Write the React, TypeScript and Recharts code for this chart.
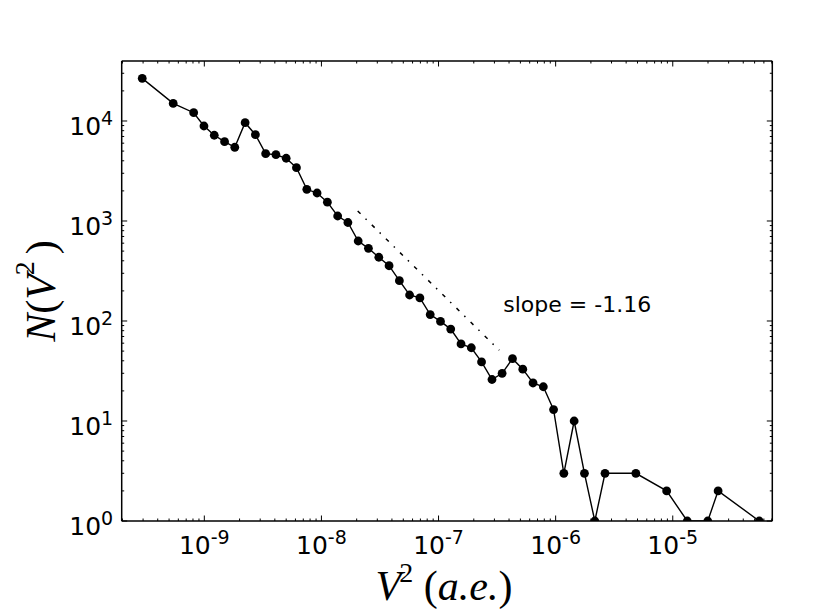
import { LineChart, Line, XAxis, YAxis, ReferenceDot } from 'recharts';

// V^2 bin centres (a.e.) and counts
const v2 = [
  2.95e-10, 5.42e-10, 8.11e-10, 9.93e-10, 1.216e-9, 1.489e-9, 1.82e-9, 2.23e-9,
  2.73e-9, 3.34e-9, 4.09e-9, 5.0e-9, 6.12e-9, 7.5e-9, 9.18e-9, 1.124e-8,
  1.376e-8, 1.683e-8, 2.06e-8, 2.52e-8, 3.09e-8, 3.78e-8, 4.63e-8, 5.66e-8,
  6.93e-8, 8.49e-8, 1.039e-7, 1.271e-7, 1.556e-7, 1.905e-7, 2.33e-7, 2.86e-7,
  3.49e-7, 4.28e-7, 5.24e-7, 6.41e-7, 7.85e-7, 9.6e-7, 1.175e-6, 1.439e-6,
  1.762e-6, 2.16e-6, 2.64e-6, 4.84e-6, 8.87e-6, 1.33e-5, 1.99e-5, 2.44e-5,
  5.48e-5,
];
const counts = [
  26700, 15000, 12100, 8910, 7200, 6210, 5460, 9620,
  7290, 4710, 4600, 4240, 3410, 2075, 1905, 1542,
  1122, 966, 631, 533, 434, 357, 253, 182,
  170, 116, 99, 83, 59, 54, 39, 26,
  30, 42, 33, 24, 22, 13, 3, 10,
  3, 1, 3, 3, 2, 1, 1, 2,
  1,
];

// power-law fit guide (endpoints)
const fitX = [2.04e-8, 3.3e-7];
const fitY = [1260, 51];

const xDecades = [1e-10, 1e-9, 1e-8, 1e-7, 1e-6, 1e-5];
const yDecades = [1, 10, 100, 1000, 10000];
const xDomain = [1.97e-10, 7.08e-5];
const yDomain = [1, 39800];

const data = v2.map((x, i) => ({ x, n: counts[i] }));
const fitData = fitX.map((x, i) => ({ x, n: fitY[i] }));

const withMinors = (decades: number[], lo: number, hi: number) => {
  const out: number[] = [];
  decades.forEach((d) => {
    for (let m = 1; m < 10; m++) {
      const v = m * d;
      if (v >= lo && v <= hi) out.push(v);
    }
  });
  return out;
};
const xTicks = withMinors(xDecades, xDomain[0], xDomain[1]);
const yTicks = withMinors(yDecades, yDomain[0], yDomain[1]);

const isMajor = (v: number) => {
  const l = Math.log10(v);
  return Math.abs(l - Math.round(l)) < 1e-6;
};

const tickFont = 'DejaVu Sans';

function Tick(props: any) {
  const { x, y, payload, side } = props;
  const v = payload.value;
  const major = isMajor(v);
  const len = major ? 5.5 : 2.5;
  const e = Math.round(Math.log10(v));
  let line;
  if (side === 'bottom') line = <line x1={x} y1={y} x2={x} y2={y - len} />;
  else if (side === 'top') line = <line x1={x} y1={y} x2={x} y2={y + len} />;
  else if (side === 'left') line = <line x1={x} y1={y} x2={x + len} y2={y} />;
  else line = <line x1={x} y1={y} x2={x - len} y2={y} />;
  return (
    <g>
      <g stroke="#000" strokeWidth={1}>{line}</g>
      {major && side === 'bottom' && (
        <text x={x} y={y + 33} textAnchor="middle" fontFamily={tickFont} fontSize={25} fill="#000">
          10<tspan fontSize={19} dy={-10}>{e}</tspan>
        </text>
      )}
      {major && side === 'left' && (
        <text x={x - 8.5} y={y + 14} textAnchor="end" fontFamily={tickFont} fontSize={25} fill="#000">
          10<tspan fontSize={19} dy={-10}>{e}</tspan>
        </text>
      )}
    </g>
  );
}

function XTitle(props: any) {
  const vb = props.viewBox;
  const cx = vb.x + vb.width / 2 - 3;
  const y = vb.y + 79;
  return (
    <text x={cx} y={y} textAnchor="middle" fontFamily="Liberation Serif" fontSize={42} fill="#000">
      <tspan fontStyle="italic">V</tspan>
      <tspan fontSize={28} dx={-2} dy={-18}>2</tspan>
      <tspan dy={18}> (</tspan>
      <tspan fontStyle="italic">a.e.</tspan>
      <tspan>)</tspan>
    </text>
  );
}

function YTitle(props: any) {
  const vb = props.viewBox;
  const bx = vb.x + 33;
  const cy = vb.y + vb.height / 2;
  return (
    <text
      x={bx}
      y={cy}
      transform={`rotate(-90 ${bx} ${cy})`}
      textAnchor="middle"
      fontFamily="Liberation Serif"
      fontSize={42}
      fill="#000"
    >
      <tspan fontStyle="italic">N</tspan>
      <tspan>(</tspan>
      <tspan fontStyle="italic">V</tspan>
      <tspan fontSize={28} dx={-1} dy={-21}>2</tspan>
      <tspan dx={7} dy={21}>)</tspan>
    </text>
  );
}

function SlopeLabel(props: any) {
  const vb = props.viewBox;
  return (
    <text x={vb.x} y={vb.y} fontFamily={tickFont} fontSize={22} fill="#000">
      slope = -1.16
    </text>
  );
}

const frame = { stroke: '#000', strokeWidth: 1.5 };

export default function App() {
  return (
    <div style={{ position: 'absolute', left: 0, top: 0, background: '#fff' }}>
      <LineChart
        width={813}
        height={613}
        data={data}
        margin={{ top: 51, right: 30.7, bottom: 32, left: 21.7 }}
      >
        <XAxis
          dataKey="x"
          type="number"
          scale="log"
          domain={xDomain}
          allowDataOverflow
          ticks={xTicks}
          interval={0}
          tickSize={0}
          tickMargin={0}
          tickLine={false}
          axisLine={frame}
          height={60}
          tick={(p: any) => <Tick {...p} side="bottom" />}
          label={{ content: (p: any) => <XTitle {...p} /> }}
        />
        <XAxis
          xAxisId="top"
          orientation="top"
          dataKey="x"
          type="number"
          scale="log"
          domain={xDomain}
          allowDataOverflow
          ticks={xTicks}
          interval={0}
          tickSize={0}
          tickMargin={0}
          tickLine={false}
          axisLine={frame}
          height={10}
          tick={(p: any) => <Tick {...p} side="top" />}
        />
        <YAxis
          dataKey="n"
          type="number"
          scale="log"
          domain={yDomain}
          allowDataOverflow
          ticks={yTicks}
          interval={0}
          tickSize={0}
          tickMargin={0}
          tickLine={false}
          axisLine={frame}
          width={100}
          tick={(p: any) => <Tick {...p} side="left" />}
          label={{ content: (p: any) => <YTitle {...p} /> }}
        />
        <YAxis
          yAxisId="right"
          orientation="right"
          dataKey="n"
          type="number"
          scale="log"
          domain={yDomain}
          allowDataOverflow
          ticks={yTicks}
          interval={0}
          tickSize={0}
          tickMargin={0}
          tickLine={false}
          axisLine={frame}
          width={10}
          tick={(p: any) => <Tick {...p} side="right" />}
        />
        <Line
          data={fitData}
          dataKey="n"
          type="linear"
          stroke="#000"
          strokeWidth={1.5}
          strokeDasharray="4 7 1.5 7.3"
          dot={false}
          activeDot={false}
          isAnimationActive={false}
        />
        <Line
          dataKey="n"
          type="linear"
          stroke="#000"
          strokeWidth={1.4}
          dot={{ r: 4.4, fill: '#000', stroke: 'none' }}
          activeDot={false}
          isAnimationActive={false}
        />
        <ReferenceDot
          x={3.57e-7}
          y={124}
          r={0}
          fill="none"
          stroke="none"
          label={{ content: (p: any) => <SlopeLabel {...p} /> }}
        />
      </LineChart>
    </div>
  );
}
